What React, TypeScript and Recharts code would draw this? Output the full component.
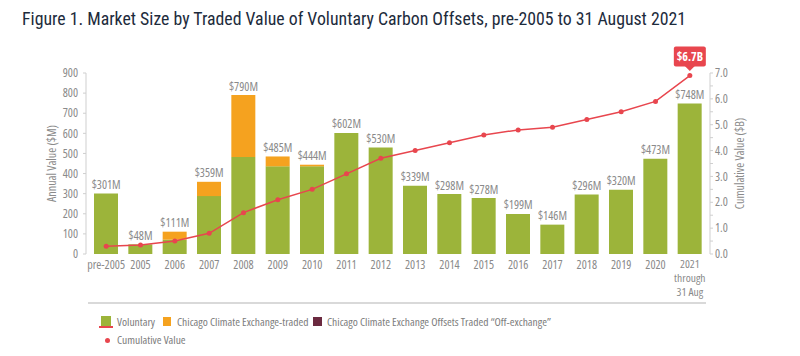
import React from "react";
import { ComposedChart, Bar, Line, XAxis, YAxis, LabelList } from "recharts";

const years = [
  "pre-2005", "2005", "2006", "2007", "2008", "2009", "2010", "2011", "2012",
  "2013", "2014", "2015", "2016", "2017", "2018", "2019", "2020", "2021\nthrough\n31 Aug",
];
const voluntary = [301, 48, 71, 288, 482, 436, 436, 602, 530, 339, 298, 278, 199, 146, 296, 320, 473, 748];
const ccxTraded = [0, 0, 40, 71, 308, 49, 8, 0, 0, 0, 0, 0, 0, 0, 0, 0, 0, 0];
const ccxOffExchange = [0, 0, 0, 0, 0, 0, 0, 0, 0, 0, 0, 0, 0, 0, 0, 0, 0, 0];
const totalLabels = [
  "$301M", "$48M", "$111M", "$359M", "$790M", "$485M", "$444M", "$602M", "$530M",
  "$339M", "$298M", "$278M", "$199M", "$146M", "$296M", "$320M", "$473M", "$748M",
];
const cumulative = [0.3, 0.35, 0.5, 0.8, 1.6, 2.1, 2.5, 3.1, 3.7, 4.0, 4.3, 4.6, 4.8, 4.9, 5.2, 5.5, 5.9, 6.9];
const leftTicks = [0, 100, 200, 300, 400, 500, 600, 700, 800, 900];
const rightTicks = [0, 0.5, 1, 1.5, 2, 2.5, 3, 3.5, 4, 4.5, 5, 5.5, 6, 6.5, 7];
const calloutText = "$6.7B";

const TITLE = { fontFamily: "'Roboto Condensed', Roboto, sans-serif", fontStretch: "condensed" } as const;
const TXT = { fontFamily: "'Open Sans', sans-serif", fontStretch: "condensed" } as const;
const GREEN = "#9cb43a";
const ORANGE = "#f5a21f";
const MAROON = "#6b2a40";
const RED = "#e8464e";
const GREY = "#8a8a8a";

const data = years.map((y, i) => ({
  year: y,
  voluntary: voluntary[i],
  ccx: ccxTraded[i],
  off: ccxOffExchange[i],
  total: voluntary[i] + ccxTraded[i] + ccxOffExchange[i],
  label: totalLabels[i],
  cumulative: cumulative[i],
}));

const XTick = (props: any) => {
  const { x, y, payload } = props;
  const lines = String(payload.value).split("\n");
  const multi = lines.length > 1;
  return (
    <text x={x} y={y} textAnchor="middle" fill={GREY} fontSize={multi ? 11.5 : 12} style={TXT}>
      {lines.map((l, i) => (
        <tspan key={i} x={x} dy={i === 0 ? "0.55em" : 14}>
          {l}
        </tspan>
      ))}
    </text>
  );
};

const TotalLabel = (props: any) => {
  const { x, y, index } = props;
  return (
    <text x={x} y={y - 4.5} textAnchor="middle" fill={GREY} fontSize={12} style={TXT}>
      {totalLabels[index]}
    </text>
  );
};

const Callout = (props: any) => {
  const { x, y, index } = props;
  if (index !== years.length - 1) return null;
  return (
    <g>
      <rect x={x - 16} y={y - 29} width={32} height={20} rx={2} fill={RED} />
      <path d={`M${x - 5},${y - 9.5} L${x + 5},${y - 9.5} L${x},${y - 4.5} Z`} fill={RED} />
      <text x={x} y={y - 15} textAnchor="middle" fill="#fff" fontSize={12} fontWeight="bold" style={TXT}>
        {calloutText}
      </text>
    </g>
  );
};

const legendText = { position: "absolute", fontSize: 11.5, color: "#7c7c7c", lineHeight: "14px", whiteSpace: "nowrap" } as const;

export default function App() {
  return (
    <div style={{ position: "absolute", left: 0, top: 0, width: 800, height: 356, background: "#fff", ...TXT }}>
      <div style={{ position: "absolute", left: 22, top: 8, fontSize: 17.8, color: "#1d2b3c", whiteSpace: "nowrap", ...TITLE }}>
        Figure 1. Market Size by Traded Value of Voluntary Carbon Offsets, pre-2005 to 31 August 2021
      </div>
      <ComposedChart
        width={800}
        height={356}
        data={data}
        margin={{ top: 73, right: 30, left: 20, bottom: 62 }}
        style={{ position: "absolute", left: 0, top: 0 }}
      >
        <XAxis
          dataKey="year"
          axisLine={false}
          tickLine={false}
          interval={0}
          height={40}
          tick={<XTick />}
          padding={{ left: 3, right: 3 }}
        />
        <YAxis
          yAxisId="left"
          domain={[0, 900]}
          ticks={leftTicks}
          interval={0}
          width={66}
          axisLine={{ stroke: "#cfcfcf" }}
          tickLine={{ stroke: "#cfcfcf" }}
          tickSize={3}
          tickMargin={5}
          tick={{ fill: GREY, fontSize: 12, style: TXT }}
          label={{
            content: (p: any) => {
              const vb = p.viewBox;
              const cx = vb.x + 36;
              const cy = vb.y + vb.height / 2;
              return (
                <text x={cx} y={cy} transform={`rotate(-90 ${cx} ${cy})`} textAnchor="middle" fill={GREY} fontSize={12} style={TXT}>
                  Annual Value ($M)
                </text>
              );
            },
          }}
        />
        <YAxis
          yAxisId="right"
          orientation="right"
          domain={[0, 7]}
          ticks={rightTicks}
          interval={0}
          width={60}
          axisLine={{ stroke: "#cfcfcf" }}
          tickLine={{ stroke: "#cfcfcf" }}
          tickSize={3}
          tick={(p: any) => {
            const v = p.payload.value;
            if (v % 1 !== 0) return <g />;
            return (
              <text x={p.x} y={p.y} dy="0.35em" textAnchor="start" fill={GREY} fontSize={12} style={TXT}>
                {v.toFixed(1)}
              </text>
            );
          }}
          label={{
            content: (p: any) => {
              const vb = p.viewBox;
              const cx = vb.x + 34;
              const cy = vb.y + vb.height / 2;
              return (
                <text x={cx} y={cy} transform={`rotate(-90 ${cx} ${cy})`} textAnchor="middle" fill={GREY} fontSize={12} style={TXT}>
                  Cumulative Value ($B)
                </text>
              );
            },
          }}
        />
        <Bar dataKey="voluntary" stackId="a" yAxisId="left" fill={GREEN} barSize={24} isAnimationActive={false} />
        <Bar dataKey="ccx" stackId="a" yAxisId="left" fill={ORANGE} barSize={24} isAnimationActive={false} />
        <Bar dataKey="off" stackId="a" yAxisId="left" fill={MAROON} barSize={24} isAnimationActive={false} />
        <Line
          dataKey="total"
          yAxisId="left"
          stroke="none"
          dot={false}
          activeDot={false}
          legendType="none"
          isAnimationActive={false}
        >
          <LabelList dataKey="label" content={<TotalLabel />} />
        </Line>
        <Line
          dataKey="cumulative"
          yAxisId="right"
          type="linear"
          stroke={RED}
          strokeWidth={1.5}
          dot={{ r: 2.5, fill: RED, stroke: RED, strokeWidth: 0 }}
          isAnimationActive={false}
        >
          <LabelList dataKey="cumulative" content={<Callout />} />
        </Line>
      </ComposedChart>
      <div style={{ position: "absolute", left: 88, top: 302, width: 618, height: 2, background: "#d9d9d9" }} />
      {/* legend */}
      <div style={{ position: "absolute", left: 101, top: 316, width: 10, height: 10, background: GREEN }} />
      <div style={{ position: "absolute", left: 99, top: 326, width: 14, height: 1.5, background: RED }} />
      <div style={{ ...legendText, left: 117, top: 315 }}>Voluntary</div>
      <div style={{ position: "absolute", left: 163, top: 317, width: 8, height: 9, background: ORANGE }} />
      <div style={{ ...legendText, left: 177, top: 315 }}>Chicago Climate Exchange-traded</div>
      <div style={{ position: "absolute", left: 313, top: 317, width: 9, height: 9, background: MAROON }} />
      <div style={{ ...legendText, left: 327, top: 315 }}>Chicago Climate Exchange Offsets Traded “Off-exchange”</div>
      <div style={{ position: "absolute", left: 104.5, top: 337.5, width: 5, height: 5, borderRadius: 3, background: RED }} />
      <div style={{ ...legendText, left: 117, top: 333 }}>Cumulative Value</div>
    </div>
  );
}
